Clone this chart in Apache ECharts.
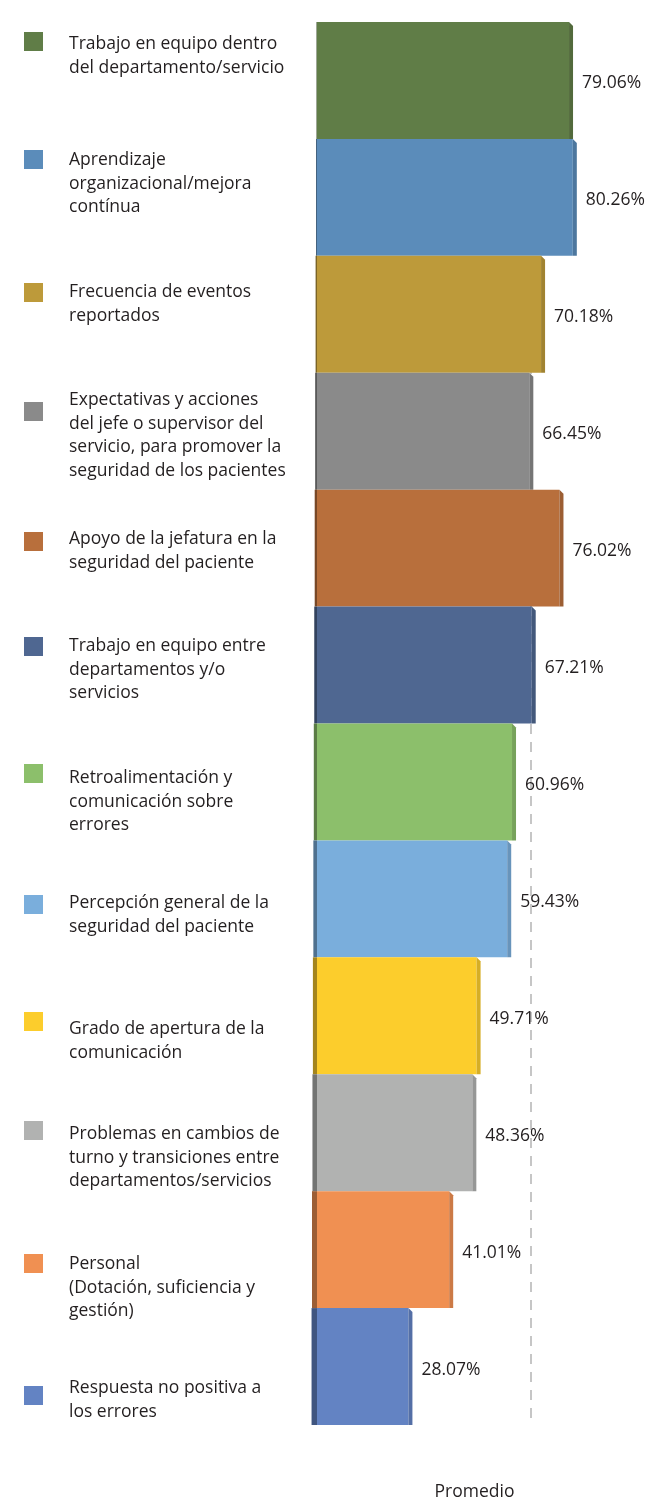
<!DOCTYPE html>
<html>
<head>
<meta charset="utf-8">
<script src="https://cdn.jsdelivr.net/npm/echarts@6/dist/echarts.min.js"></script>
<style>
  html, body { margin: 0; padding: 0; background: #fff; }
  #chart { width: 646px; height: 1499px; }
</style>
</head>
<body>
<div id="chart"></div>
<script>
// categories (legend texts, top to bottom)
var categories = [
  'Trabajo en equipo dentro\ndel departamento/servicio',
  'Aprendizaje\norganizacional/mejora\ncontínua',
  'Frecuencia de eventos\nreportados',
  'Expectativas y acciones\ndel jefe o supervisor del\nservicio, para promover la\nseguridad de los pacientes',
  'Apoyo de la jefatura en la\nseguridad del paciente',
  'Trabajo en equipo entre\ndepartamentos y/o\nservicios',
  'Retroalimentación y\ncomunicación sobre\nerrores',
  'Percepción general de la\nseguridad del paciente',
  'Grado de apertura de la\ncomunicación',
  'Problemas en cambios de\nturno y transiciones entre\ndepartamentos/servicios',
  'Personal\n(Dotación, suficiencia y\ngestión)',
  'Respuesta no positiva a\nlos errores'
];
var values = [79.06, 80.26, 70.18, 66.45, 76.02, 67.21, 60.96, 59.43, 49.71, 48.36, 41.01, 28.07];
var colors = ['#607d47', '#5b8cba', '#bd9a3a', '#8a8a8a', '#b86f3c', '#4f6791',
              '#8cbf6b', '#7aaedc', '#fccd2c', '#b1b2b1', '#f09052', '#6383c3'];
var refLine = 67;
var axisName = 'Promedio';

// legend layout (icon top, first text line centre)
var legendIconTop = [32, 150, 283, 402, 532, 637, 764, 895, 1012, 1121, 1254, 1386];
var legendTextY = [44, 160, 292, 400, 539, 646, 778, 903, 1029, 1134, 1264, 1388];
var lineH = 23.7;
var font = '"Open Sans", "Noto Sans", sans-serif';

function darken(hex, k) {
  var n = parseInt(hex.slice(1), 16);
  var r = Math.round(((n >> 16) & 255) * k);
  var g = Math.round(((n >> 8) & 255) * k);
  var b = Math.round((n & 255) * k);
  return 'rgb(' + r + ',' + g + ',' + b + ')';
}

var chart = echarts.init(document.getElementById('chart'));

var legendItems = [];
categories.forEach(function (name, i) {
  legendItems.push({
    type: 'rect',
    shape: { x: 24, y: legendIconTop[i], width: 19, height: 19 },
    style: { fill: colors[i] }
  });
  legendItems.push({
    type: 'text',
    x: 69,
    y: legendTextY[i] - lineH / 2,
    style: {
      text: name,
      fontSize: 17.5,
      fontFamily: font,
      lineHeight: lineH,
      fill: '#231f20',
      verticalAlign: 'top'
    }
  });
});

var option = {
  animation: false,
  grid: { left: 320, right: 11, top: 22, bottom: 74, outerBoundsMode: 'none' },
  xAxis: {
    type: 'value',
    min: 0,
    max: 100,
    axisLine: { show: false },
    axisTick: { show: false },
    axisLabel: { show: false },
    splitLine: { show: false },
    name: axisName,
    nameLocation: 'middle',
    nameGap: 58,
    nameTextStyle: { fontSize: 17.5, fontFamily: font, color: '#231f20', padding: [0, 6, 0, 0] }
  },
  yAxis: {
    type: 'category',
    inverse: true,
    data: categories,
    show: false
  },
  graphic: legendItems,
  series: [
    {
      type: 'line',
      data: [],
      z: 1,
      markLine: {
        z: 1,
        silent: true,
        symbol: 'none',
        label: { show: false },
        lineStyle: { type: [10, 8], color: '#c6c6c6', width: 2 },
        data: [{ xAxis: refLine }]
      }
    },
    {
      type: 'custom',
      z: 3,
      data: values.map(function (v, i) { return [v, i]; }),
      renderItem: function (params, api) {
        var idx = api.value(1);
        var v = api.value(0);
        var p0 = api.coord([0, idx]);
        var p1 = api.coord([v, idx]);
        var h = api.size([0, 1])[1];
        var y0 = p0[1] - h / 2;
        var yb = p0[1] + h / 2;
        var x0 = p0[0] - 3;
        var x1 = p1[0];
        var c = colors[idx];
        var w = 0.5 + idx * 0.45;
        return {
          type: 'group',
          children: [
            {
              type: 'rect',
              shape: { x: x0, y: y0, width: x1 - x0, height: h },
              style: { fill: c }
            },
            {
              type: 'polygon',
              shape: { points: [[x1, y0], [x1 + 4, y0 + 4], [x1 + 4, yb], [x1, yb]] },
              style: { fill: darken(c, 0.85) }
            },
            {
              type: 'rect',
              shape: { x: x0 - w, y: y0, width: w, height: h },
              style: { fill: darken(c, 0.65) }
            },
            {
              type: 'text',
              x: x1 + 13,
              y: p0[1] + 3,
              style: {
                text: v.toFixed(2) + '%',
                fontSize: 17.5,
                fontFamily: font,
                fill: '#231f20',
                verticalAlign: 'middle'
              }
            }
          ]
        };
      }
    }
  ]
};

chart.setOption(option);
window.addEventListener('resize', function () {
  chart.resize();
});
</script>
</body>
</html>
